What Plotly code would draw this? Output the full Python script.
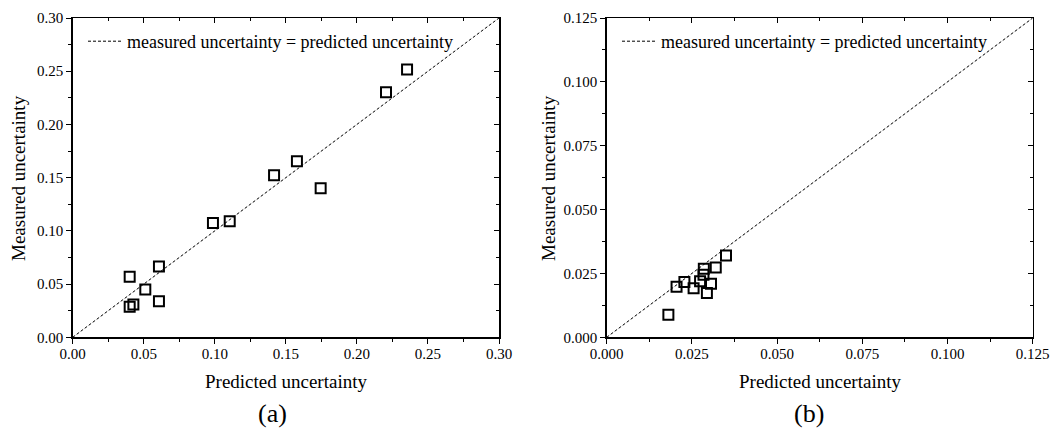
import plotly.graph_objects as go

# ---- data ----
pred_a = [0.2353, 0.2205, 0.1578, 0.1417, 0.1745, 0.0987, 0.1105, 0.0607, 0.0401, 0.0511, 0.0607, 0.0427, 0.0401]
meas_a = [0.2515, 0.2303, 0.1653, 0.1522, 0.1400, 0.1075, 0.1090, 0.0666, 0.0569, 0.0450, 0.0338, 0.0307, 0.0288]

pred_b = [0.0350, 0.0320, 0.0285, 0.0284, 0.0274, 0.0306, 0.0228, 0.0205, 0.0255, 0.0294, 0.0181]
meas_b = [0.0320, 0.0273, 0.0268, 0.0245, 0.0219, 0.0210, 0.0216, 0.0198, 0.0192, 0.0173, 0.0088]

range_a = [0.0, 0.30]
range_b = [0.0, 0.125]
ticks_a = [0.00, 0.05, 0.10, 0.15, 0.20, 0.25, 0.30]
ticks_b = [0.000, 0.025, 0.050, 0.075, 0.100, 0.125]

legend_text = "measured uncertainty = predicted uncertainty"
x_title = "Predicted uncertainty"
y_title = "Measured uncertainty"
panel_labels = ["(a)", "(b)"]

FONT = "Liberation Serif, Times New Roman, serif"

W, H = 1051, 434

def px(x):
    return x / W

def py(y):
    return 1 - y / H

fig = go.Figure()

# identity lines
fig.add_trace(go.Scatter(x=range_a, y=range_a, mode="lines", name=legend_text,
                         line=dict(color="black", width=1, dash="3px,2px"),
                         xaxis="x", yaxis="y", legend="legend", showlegend=True))
fig.add_trace(go.Scatter(x=range_b, y=range_b, mode="lines", name=legend_text,
                         line=dict(color="black", width=1, dash="3px,2px"),
                         xaxis="x2", yaxis="y2", legend="legend2", showlegend=True))

# scatter points
fig.add_trace(go.Scatter(x=pred_a, y=meas_a, mode="markers", showlegend=False,
                         marker=dict(symbol="square-open", size=10, color="black",
                                     line=dict(width=2, color="black")),
                         xaxis="x", yaxis="y"))
fig.add_trace(go.Scatter(x=pred_b, y=meas_b, mode="markers", showlegend=False,
                         marker=dict(symbol="square-open", size=10, color="black",
                                     line=dict(width=2, color="black")),
                         xaxis="x2", yaxis="y2"))

# invisible traces to activate mirrored (inside-tick) axes
fig.add_trace(go.Scatter(x=range_a, y=range_a, mode="markers", marker=dict(opacity=0),
                         showlegend=False, hoverinfo="skip", xaxis="x3", yaxis="y3"))
fig.add_trace(go.Scatter(x=range_b, y=range_b, mode="markers", marker=dict(opacity=0),
                         showlegend=False, hoverinfo="skip", xaxis="x4", yaxis="y4"))

dom_ya = [py(337.3), py(18)]
dom_xa = [px(72.7), px(499)]
dom_xb = [px(606.7), px(1032.7)]

tickfont = dict(family=FONT, size=15, color="black")

def main_axis(rng, tickvals, fmt, dtick_minor, domain, anchor, standoff):
    return dict(range=rng, tickvals=tickvals, tickformat=fmt, ticks="outside", ticklen=5,
                tickwidth=1, tickcolor="black", showline=True, linecolor="black", linewidth=1.5,
                mirror=True, showgrid=False, zeroline=False, tickfont=tickfont,
                ticklabelstandoff=standoff,
                minor=dict(ticks="outside", ticklen=3, tickcolor="black", dtick=dtick_minor,
                           showgrid=False),
                domain=domain, anchor=anchor, automargin=False, fixedrange=True)

def mirror_axis(rng, tickvals, dtick_minor, overlaying, side, anchor):
    return dict(range=rng, tickvals=tickvals, ticks="inside", ticklen=5, tickwidth=1,
                tickcolor="black", showticklabels=False, showline=False, showgrid=False,
                zeroline=False, overlaying=overlaying, side=side, anchor=anchor,
                minor=dict(ticks="inside", ticklen=3, tickcolor="black", dtick=dtick_minor,
                           showgrid=False),
                automargin=False, fixedrange=True)

legend_font = dict(family=FONT, size=18, color="black")

fig.update_layout(
    width=W, height=H,
    margin=dict(l=0, r=0, t=0, b=0, autoexpand=False),
    paper_bgcolor="white", plot_bgcolor="white",
    font=dict(family=FONT, color="black"),
    xaxis=main_axis(range_a, ticks_a, ".2f", 0.025, dom_xa, "y", -3),
    yaxis=main_axis(range_a, ticks_a, ".2f", 0.025, dom_ya, "x", 0),
    xaxis2=main_axis(range_b, ticks_b, ".3f", 0.0125, dom_xb, "y2", -3),
    yaxis2=main_axis(range_b, ticks_b, ".3f", 0.0125, dom_ya, "x2", 0),
    xaxis3=mirror_axis(range_a, ticks_a, 0.025, "x", "top", "y"),
    yaxis3=mirror_axis(range_a, ticks_a, 0.025, "y", "right", "x"),
    xaxis4=mirror_axis(range_b, ticks_b, 0.0125, "x2", "top", "y2"),
    yaxis4=mirror_axis(range_b, ticks_b, 0.0125, "y2", "right", "x2"),
    legend=dict(x=px(83), y=py(23), xanchor="left", yanchor="top", itemwidth=34,
                bgcolor="rgba(0,0,0,0)", font=legend_font),
    legend2=dict(x=px(617), y=py(23), xanchor="left", yanchor="top", itemwidth=34,
                 bgcolor="rgba(0,0,0,0)", font=legend_font),
    showlegend=True,
)

title_font = dict(family=FONT, size=19, color="black")
label_font = dict(family=FONT, size=26, color="black")
ann = [
    dict(text=x_title, x=px(286), y=py(381), font=title_font),
    dict(text=x_title, x=px(820), y=py(381), font=title_font),
    dict(text=y_title, x=px(18), y=py(178), textangle=-90, font=title_font),
    dict(text=y_title, x=px(548), y=py(178), textangle=-90, font=title_font),
    dict(text=panel_labels[0], x=px(272), y=py(413), font=label_font),
    dict(text=panel_labels[1], x=px(809), y=py(413), font=label_font),
]
for a in ann:
    a.update(xref="paper", yref="paper", showarrow=False, xanchor="center", yanchor="middle")
fig.update_layout(annotations=ann)

# remove the default page margin so the figure fills the window exactly
fig.write_html("out.html",
               config={"displayModeBar": False, "staticPlot": True},
               post_script="document.body.style.margin='0';"
                           "document.body.style.overflow='hidden';")
